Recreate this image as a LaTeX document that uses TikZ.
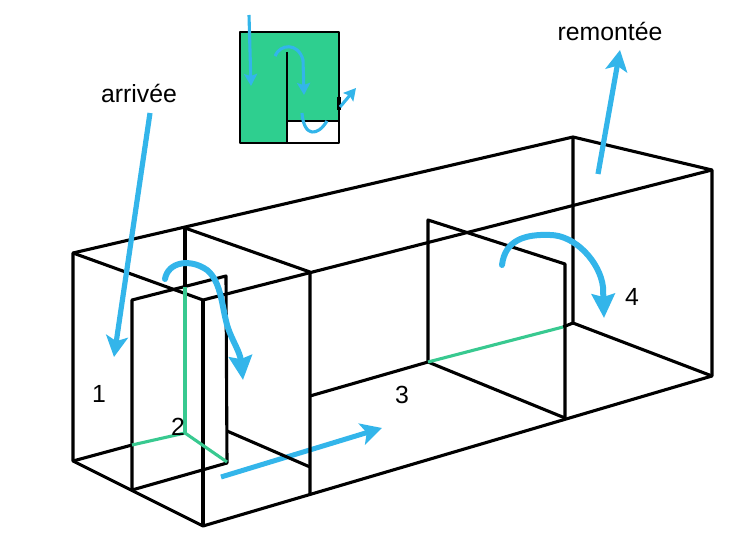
\documentclass[tikz,border=0pt]{standalone}
\usepackage{fontspec}
\setmainfont{Liberation Sans}
\usetikzlibrary{arrows.meta}
\begin{document}
\begin{tikzpicture}[x=1pt, y=-1pt, >={Stealth[length=21pt, width=22pt, inset=5pt]}, line join=round,
		wall/.style={draw=black, line width=3.1pt},
		thinwall/.style={draw=black, line width=2.6pt},
		waterline/.style={draw=seagreen, line width=3.1pt},
		flow/.style={->, draw=skyblue, line width=5.2pt},
		turnflow/.style={->, draw=skyblue, line width=6pt, line cap=round, >={Stealth[length=24pt, width=23pt, inset=3pt]}},
		smallflow/.style={->, draw=skyblue, line width=3.1pt, >={Stealth[length=12pt, width=13pt, inset=2pt]}},
		label/.style={font=\fontsize{24.8}{28}\selectfont, inner sep=0pt}]
	\definecolor{skyblue}{RGB}{51, 181, 234}
	\definecolor{seagreen}{RGB}{56, 201, 144}
	\definecolor{basin}{RGB}{46, 207, 143}
	\useasboundingbox (0,0) rectangle (747,556);
	% inset
	\fill[basin] (240,32) rectangle (339,143);
	\fill[white] (287,121) rectangle (339,143);
	\draw[thinwall] (240,32) rectangle (339,143);
	\draw[thinwall] (287,52) -- (287,143);
	\draw[thinwall] (287,121) -- (339,121);
	\draw[black, line width=3.8pt] (339,97) -- (339,110);
	\draw[smallflow] (249,15) -- (251,86);
	\draw[smallflow] (275,56) .. controls (280,44) and (298,42) .. (303,60) -- (304,95);
	\draw[skyblue, line width=3.1pt] (302,113) .. controls (304,138) and (318,136) .. (327,121);
	\draw[smallflow] (340,107) -- (356,88);
	% flow under the box
	\draw[flow, line width=5pt] (221,477) -- (382,428);
	% box
	\draw[wall] (73,253) -- (573,137) -- (712,170) -- (712,376) -- (203,526) -- (73,461) -- cycle;
	\draw[wall] (73,253) -- (203,300) -- (712,170);
	\draw[wall] (203,300) -- (203,526);
	\draw[wall] (573,137) -- (573,323) -- (712,376);
	% first panel
	\draw[wall] (185,228) -- (310,272) -- (310,495);
	\draw[wall] (185,228) -- (185,287);
	\draw[wall] (132,490) -- (132,300) -- (226,276) -- (227,463) -- (132,490);
	\draw[wall] (73,461) -- (132,445);
	\draw[wall] (227,431) -- (310,467);
	\draw[waterline] (185,287) -- (185,433);
	\draw[waterline] (132,445) -- (185,433) -- (227,462);
	% second panel
	\draw[wall] (310,396) -- (428,362) -- (428,220) -- (565,264) -- (565,418) -- (428,362);
	\draw[wall] (563,327) -- (573,323);
	\draw[waterline] (428,362) -- (563,327);
	% arrows
	\draw[flow] (150,113) -- (114,357);
	\draw[flow] (598,174) -- (620,50);
	\draw[turnflow] (165,279) .. controls (168,262) and (190,258) .. (207,270) .. controls (222,282) and (222,310) .. (228,328) .. controls (232,340) and (240,352) .. (243,380);
	\draw[turnflow] (502,265) .. controls (505,240) and (525,234) .. (550,235) .. controls (575,235) and (600,262) .. (603,287) -- (604,318);
	% labels
	\node[label] (arrivee) at (139,93) {arrivée};
	\node[label] (remontee) at (610,31) {remontée};
	\node[label] (one) at (99,394) {1};
	\node[label] (two) at (178,427) {2};
	\node[label] (three) at (402,395) {3};
	\node[label] (four) at (632,297) {4};
\end{tikzpicture}
\end{document}
